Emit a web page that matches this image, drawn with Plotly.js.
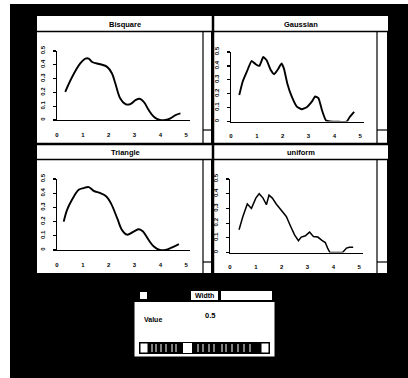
<!DOCTYPE html>
<html><head><meta charset="utf-8">
<script src="https://cdn.plot.ly/plotly-3.0.1.min.js"></script>
<style>html,body{margin:0;padding:0;background:#fff}#chart{width:408px;height:378px}</style>
</head><body><div id="chart"></div>
<script>
// ---- data ----
const kernelNames = ["Bisquare", "Gaussian", "Triangle", "uniform"];
const xBisquare = [0.32,0.58,0.9,1.1,1.23,1.36,1.68,1.94,2.13,2.26,2.45,2.65,2.84,3.04,3.2,3.36,3.55,3.75,3.98,4.2,4.39,4.59,4.78];
const yBisquare = [0.204,0.31,0.41,0.445,0.445,0.42,0.404,0.385,0.337,0.264,0.156,0.115,0.115,0.144,0.154,0.132,0.072,0.024,0,0,0.012,0.036,0.048];
const xGaussian = [0.32,0.45,0.61,0.8,0.97,1.1,1.25,1.38,1.54,1.67,1.8,1.96,2.05,2.18,2.35,2.55,2.74,2.93,3.13,3.26,3.39,3.52,3.68,3.84,4.48,4.61,4.77];
const yGaussian = [0.19,0.286,0.357,0.436,0.41,0.40,0.464,0.44,0.37,0.34,0.37,0.417,0.38,0.274,0.18,0.107,0.088,0.102,0.143,0.18,0.167,0.083,0.007,0,0,0.036,0.07];
const xTriangle = [0.26,0.39,0.58,0.84,1.03,1.23,1.42,1.68,1.91,2.1,2.33,2.52,2.71,2.97,3.17,3.33,3.55,3.75,3.98,4.2,4.46,4.72];
const yTriangle = [0.2,0.283,0.354,0.424,0.436,0.443,0.417,0.4,0.377,0.325,0.224,0.14,0.108,0.13,0.146,0.13,0.07,0.024,0,0,0.019,0.042];
const xUniform = [0.35,0.49,0.67,0.83,1.0,1.13,1.28,1.41,1.51,1.64,1.79,1.99,2.18,2.35,2.5,2.65,2.76,2.92,3.08,3.23,3.4,3.56,3.69,3.78,3.87,4.36,4.51,4.62,4.77];
const yUniform = [0.155,0.24,0.33,0.30,0.37,0.40,0.37,0.325,0.39,0.37,0.33,0.29,0.245,0.177,0.12,0.08,0.105,0.114,0.139,0.109,0.105,0.082,0.068,0.03,0,0,0.03,0.036,0.036];
const xTickVals = [0,1,2,3,4,5];
const xTickText = ["0","1","2","3","4","5"];
const yTickVals = [0,0.1,0.2,0.3,0.4,0.5];
const yTickText = ["0","0.1","0.2","0.3","0.4","0.5"];
const widthLabel = "Width";
const valueLabel = "Value";
const bandwidth = 0.5;

// ---- layout helpers (pixel -> paper) ----
const W = 408, H = 378;
const px = x => x / W;
const py = y => 1 - y / H;
const shapes = [];
function rect(x0,y0,x1,y1,fill,lc,lw){shapes.push({type:'rect',xref:'paper',yref:'paper',x0:px(x0),x1:px(x1),y0:py(y1),y1:py(y0),fillcolor:fill,line:{color:lc||fill,width:lw===undefined?0:lw},layer:'below'});}
function line(x0,y0,x1,y1,lw,c){shapes.push({type:'line',xref:'paper',yref:'paper',x0:px(x0),x1:px(x1),y0:py(y0),y1:py(y1),line:{color:c||'#000',width:lw||1},layer:'below'});}

// background
rect(10,4,408,378,'#000');
rect(37,16,388,273,'#fff');
// title bars / separators
line(37,31.5,388,31.5,1.5);
line(37,144,388,144,2.5);
line(37,159.5,388,159.5,1.5);
line(213,4,213,273,2.5);
// strips
[[203,212],[377,388]].forEach(([a,b])=>{
  line(a,31.5,a,143,1.2); line(b-0.5,31.5,b-0.5,143,1);
  line(a,130,b,130,1.2);
  line(a,160,a,273,1.2); line(b-0.5,160,b-0.5,273,1);
  line(a,262,b,262,1.2);
});

// slider window
rect(134,289,275,357,'#fff','#000',1);
rect(134,289,275,302,'#000');
rect(140,292,147,299,'#fff');
rect(191,291,218,300,'#fff');
rect(221,291,272,300,'#fff');
rect(139,342,270,354,'#000');
rect(140,343,148,353,'#fff','#000',1);
rect(261,343,269,353,'#fff','#000',1);
rect(183,343,192,353,'#fff');
[152,156,161,166,172,176,198,203,209,214,222,226,232,238,244,250].forEach(x=>line(x,344,x,352,1,'#fff'));

const traces = [
  {x:xBisquare,y:yBisquare,xaxis:'x',yaxis:'y',mode:'lines',showlegend:false,line:{color:'#000',width:1.9,shape:'spline',smoothing:1}},
  {x:xGaussian,y:yGaussian,xaxis:'x2',yaxis:'y2',mode:'lines',showlegend:false,line:{color:'#000',width:1.9,shape:'spline',smoothing:0.4}},
  {x:xTriangle,y:yTriangle,xaxis:'x3',yaxis:'y3',mode:'lines',showlegend:false,line:{color:'#000',width:1.9,shape:'spline',smoothing:1}},
  {x:xUniform,y:yUniform,xaxis:'x4',yaxis:'y4',mode:'lines',showlegend:false,line:{color:'#000',width:1.5,shape:'linear'}}
];

const tf = {family:'Liberation Sans, Arial, sans-serif',size:6,color:'#000',weight:'bold'};
function xax(d0,d1,anchor){return {domain:[px(d0),px(d1)],range:[0,5.15],anchor:anchor,showgrid:false,zeroline:false,showline:true,linecolor:'#000',linewidth:1.3,ticks:'',tickvals:xTickVals,ticktext:xTickText,tickfont:tf,ticklabelstandoff:8,fixedrange:true};}
function yax(top,bottom,anchor){return {domain:[py(bottom),py(top)],range:[0,0.5],anchor:anchor,showgrid:false,zeroline:false,showline:true,linecolor:'#000',linewidth:1.3,ticks:'outside',ticklen:3,tickcolor:'#000',tickwidth:1.2,tickvals:yTickVals,ticktext:yTickText,tickangle:-90,tickfont:tf,ticklabelstandoff:5,fixedrange:true};}

const titleFont = {family:'Liberation Sans, Arial, sans-serif',size:7.5,color:'#000',weight:'bold'};
const ann = (x,y,t,f,xa)=>({xref:'paper',yref:'paper',x:px(x),y:py(y),text:t,showarrow:false,font:f||titleFont,xanchor:xa||'center',yanchor:'middle'});
const annotations = [
  ann(125,24,kernelNames[0]), ann(301,24,kernelNames[1]),
  ann(125,152,kernelNames[2]), ann(301,152,kernelNames[3]),
  ann(204.5,295.5,widthLabel,{family:'Liberation Sans, Arial, sans-serif',size:7,color:'#000',weight:'bold'}),
  ann(142,319,valueLabel,{family:'Liberation Sans, Arial, sans-serif',size:7,color:'#000',weight:'bold'},'left'),
  ann(210,315,bandwidth.toFixed(1),{family:'Liberation Sans, Arial, sans-serif',size:7.5,color:'#000',weight:'bold'})
];

const layout = {
  width:W,height:H,margin:{l:0,r:0,t:0,b:0},
  paper_bgcolor:'#fff',plot_bgcolor:'rgba(0,0,0,0)',
  showlegend:false,
  xaxis:xax(57,190,'y'), yaxis:yax(51,120,'x'),
  xaxis2:xax(231,364,'y2'), yaxis2:yax(52,121.5,'x2'),
  xaxis3:xax(57,190,'y3'), yaxis3:yax(179,250,'x3'),
  xaxis4:xax(230,363,'y4'), yaxis4:yax(179,252.5,'x4'),
  shapes:shapes, annotations:annotations
};
Plotly.newPlot('chart',traces,layout,{staticPlot:true,displayModeBar:false});
</script></body></html>
